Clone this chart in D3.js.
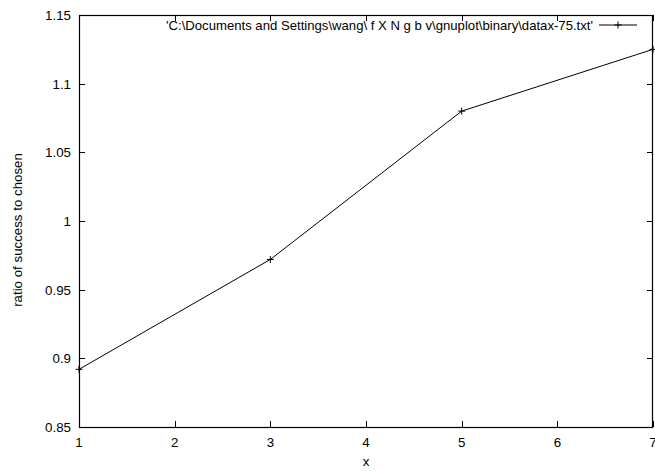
<!DOCTYPE html>
<html>
<head>
<meta charset="utf-8">
<script src="https://cdn.jsdelivr.net/npm/d3@7"></script>
<style>
  body { margin: 0; background: #fff; }
  text { font-family: "Liberation Sans", Arial, sans-serif; font-size: 13.3px; fill: #000; }
</style>
</head>
<body>
<div id="chart-area"><svg></svg></div>
<script>
// Data
const xValues = [1, 3, 5, 7];
const yValues = [0.892, 0.972, 1.08, 1.125];
const xTicks = [1, 2, 3, 4, 5, 6, 7];
const yTicks = [0.85, 0.9, 0.95, 1, 1.05, 1.1, 1.15];
const seriesName = "'C:\\Documents and Settings\\wang\\ f X N g b v\\gnuplot\\binary\\datax-75.txt'";

const width = 655, height = 471;
const svg = d3.select('#chart-area').select('svg')
    .attr('width', width).attr('height', height);

// Plot frame
const margin = { top: 15, right: 2, bottom: 44, left: 79 };
const x = d3.scaleLinear().domain([1, 7]).range([margin.left, width - margin.right]);
const y = d3.scaleLinear().domain([0.85, 1.15]).range([height - margin.bottom, margin.top]);

const tickLen = 6;

// Ticks (inward, mirrored like gnuplot)
const g = svg.append('g').attr('stroke', '#000').attr('stroke-width', 1);
xTicks.forEach(t => {
    const px = Math.round(x(t)) + 0.5;
    g.append('line').attr('x1', px).attr('x2', px)
        .attr('y1', y.range()[0]).attr('y2', y.range()[0] - tickLen);
    g.append('line').attr('x1', px).attr('x2', px)
        .attr('y1', y.range()[1]).attr('y2', y.range()[1] + tickLen);
});
yTicks.forEach(t => {
    const py = Math.round(y(t)) + 0.5;
    g.append('line').attr('x1', x.range()[0]).attr('x2', x.range()[0] + tickLen)
        .attr('y1', py).attr('y2', py);
    g.append('line').attr('x1', x.range()[1]).attr('x2', x.range()[1] - tickLen)
        .attr('y1', py).attr('y2', py);
});

// Border
svg.append('rect')
    .attr('x', x.range()[0] + 0.5).attr('y', y.range()[1] + 0.5)
    .attr('width', x.range()[1] - x.range()[0] - 1)
    .attr('height', y.range()[0] - y.range()[1])
    .attr('fill', 'none').attr('stroke', '#000').attr('stroke-width', 1.2);

// Tick labels (the last one runs off the right edge, as in the original)
svg.append('g').selectAll('text').data(xTicks).join('text')
    .attr('x', d => x(d)).attr('y', y.range()[0] + 20)
    .attr('text-anchor', 'middle').text(d => d);
svg.append('g').selectAll('text').data(yTicks).join('text')
    .attr('x', x.range()[0] - 8).attr('y', d => y(d) + 5)
    .attr('text-anchor', 'end').text(d => d);

// Axis titles
svg.append('text').attr('x', (x.range()[0] + x.range()[1]) / 2).attr('y', 466)
    .attr('text-anchor', 'middle').text('x');
svg.append('text')
    .attr('transform', `translate(22,230) rotate(-90)`)
    .attr('text-anchor', 'middle').text('ratio of success to chosen');

// Series line
const pts = xValues.map((v, i) => [v, yValues[i]]);
svg.append('path').datum(pts)
    .attr('fill', 'none').attr('stroke', '#000').attr('stroke-width', 1)
    .attr('d', d3.line().x(d => x(d[0])).y(d => y(d[1])));

// Point markers (+)
const m = 3.5;
svg.append('g').selectAll('path').data(pts).join('path')
    .attr('stroke', '#000').attr('stroke-width', 1).attr('fill', 'none')
    .attr('d', d => `M${x(d[0]) - m},${y(d[1])}H${x(d[0]) + m}M${x(d[0])},${y(d[1]) - m}V${y(d[1]) + m}`);

// Legend
const ly = 25;
svg.append('text').attr('x', 593).attr('y', ly + 5).attr('text-anchor', 'end')
    .attr('textLength', 427).attr('lengthAdjust', 'spacingAndGlyphs')
    .text(seriesName);
svg.append('line').attr('x1', 599).attr('x2', 637).attr('y1', ly).attr('y2', ly)
    .attr('stroke', '#000');
svg.append('path').attr('stroke', '#000')
    .attr('d', `M${618 - m},${ly}H${618 + m}M618,${ly - m}V${ly + m}`);
</script>
</body>
</html>
